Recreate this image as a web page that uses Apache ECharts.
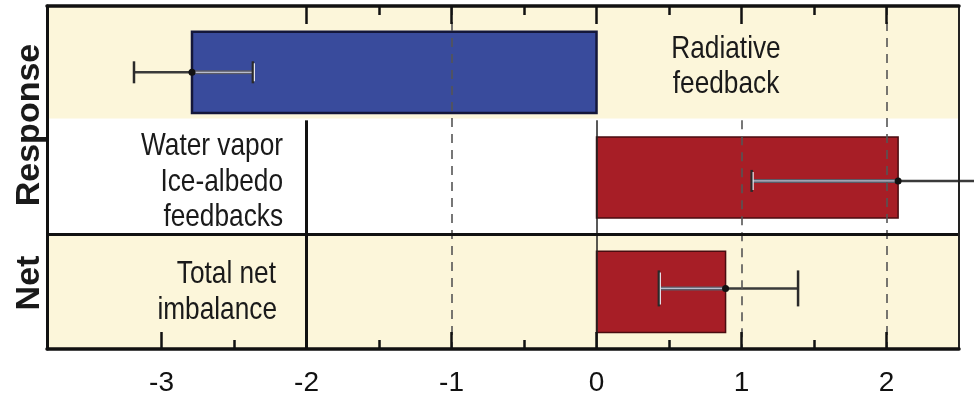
<!DOCTYPE html>
<html><head><meta charset="utf-8">
<script src="https://cdn.jsdelivr.net/npm/echarts@6/dist/echarts.min.js"></script>
<style>html,body{margin:0;padding:0;background:#fff}#c{width:974px;height:397px}</style>
</head><body><div id="c"></div>
<script>
// ---- data ----
const categories = ['Radiative feedback', 'Water vapor / Ice-albedo feedbacks', 'Total net imbalance'];
const groupLabels = ['Response', 'Net'];
const values = [-2.79, 2.08, 0.89];
const errLow = [-3.19, 1.07, 0.43];
const errHigh = [-2.37, 3.09, 1.39];
const majorTicks = [-3, -2, -1, 0, 1, 2];
const minorTicks = [-2.5, -1.5, -0.5, 0.5, 1.5];
const topMajorTicks = [-2, -1, 0, 1, 2];
const topMinorTicks = [-1.5, -0.5, 0.5, 1.5];
const xMin = -3.79, xMax = 2.5;

// ---- styles ----
const barColors = ['#394b9c', '#a71e26', '#a71e26'];
const barBorders = ['#14173a', '#4a0c10', '#4a0c10'];
const barShift = [0.08, 0, 0];
const errShift = [0.08, 0.03, -0.03];
const capHeights = [22, 22, 36];
const band = '#fcf6da';
const txt = '#1a1a1a';
const narrowScale = 0.82;

const chart = echarts.init(document.getElementById('c'));

function axisX(pos, ticks, len, showLine, showLabel) {
  return {
    type: 'value', position: pos, min: xMin, max: xMax, z: 6,
    axisLine: { show: showLine, onZero: false, lineStyle: { color: '#111', width: 3.5 } },
    axisTick: { show: true, inside: true, length: len, customValues: ticks, lineStyle: { color: '#111', width: 2.5 } },
    axisLabel: showLabel ? { show: true, customValues: ticks, fontSize: 28, color: '#111', fontFamily: 'Liberation Sans', margin: 20 } : { show: false },
    splitLine: { show: false }
  };
}

const dash = { color: '#555', width: 1.6, type: [9, 7] };
const solid = { color: '#111', width: 3, type: 'solid' };
const thin = { color: '#222', width: 1.5, type: 'solid' };

function seg(x1, y1, x2, y2, style) {
  return [{ coord: [x1, y1], lineStyle: style }, { coord: [x2, y2] }];
}

function note(text, x, y, align) {
  return { type: 'text', x: x, y: y, z: 10, scaleX: narrowScale,
    style: { text: text, fontSize: 32, fontFamily: 'Liberation Sans', fill: txt, align: align, verticalAlign: 'middle' } };
}

const option = {
  animation: false,
  backgroundColor: '#fff',
  grid: { left: 47, right: 15, top: 6, bottom: 48, containLabel: false, outerBoundsMode: 'none' },
  xAxis: [
    axisX('bottom', majorTicks, 17, true, true),
    axisX('bottom', minorTicks, 9, false, false),
    axisX('top', topMajorTicks, 18, true, false),
    axisX('top', topMinorTicks, 9, false, false)
  ],
  yAxis: [
    { type: 'value', min: 0, max: 3, inverse: true, position: 'left', z: 6,
      axisLine: { show: true, onZero: false, lineStyle: { color: '#111', width: 3 } },
      axisTick: { show: false }, axisLabel: { show: false }, splitLine: { show: false } },
    { type: 'value', min: 0, max: 3, inverse: true, position: 'right', z: 6,
      axisLine: { show: true, onZero: false, lineStyle: { color: '#222', width: 2 } },
      axisTick: { show: false }, axisLabel: { show: false }, splitLine: { show: false } }
  ],
  series: [
    { type: 'line', data: [], z: 0, silent: true,
      markArea: { silent: true, itemStyle: { color: band },
        data: [[{ yAxis: 0 }, { yAxis: 0.985 }], [{ yAxis: 2 }, { yAxis: 3 }]] } },
    { type: 'line', data: [], z: 1, silent: true,
      markLine: { silent: true, symbol: ['none', 'none'], label: { show: false },
        data: [
          seg(-1, 0, -1, 3, dash),
          seg(1, 1, 1, 3, dash),
          seg(2, 0, 2, 3, dash),
          seg(-2, 1, -2, 3, solid),
          seg(0, 1, 0, 3, thin),
          seg(xMin, 2, xMax, 2, solid)
        ] } },
    { type: 'custom', z: 2, clip: false, encode: { x: 1, y: 0 },
      data: values.map((v, i) => [i, v]),
      renderItem(params, api) {
        const i = api.value(0), v = api.value(1);
        const c = i + 0.5 + barShift[i];
        const p0 = api.coord([0, c]), p1 = api.coord([v, c]);
        const h = Math.abs(api.size([0, 0.71])[1]);
        return { type: 'rect',
          shape: { x: Math.min(p0[0], p1[0]), y: p0[1] - h / 2, width: Math.abs(p1[0] - p0[0]), height: h },
          style: { fill: barColors[i], stroke: barBorders[i], lineWidth: i === 0 ? 2.5 : 1.5 } };
      } },
    { type: 'custom', z: 3, clip: false, encode: { x: 1, y: 0 },
      data: values.map((v, i) => [i, v, errLow[i], errHigh[i]]),
      renderItem(params, api) {
        const i = api.value(0), v = api.value(1), lo = api.value(2), hi = api.value(3);
        const c = i + 0.5 + errShift[i];
        const pv = api.coord([v, c]), pl = api.coord([lo, c]), ph = api.coord([hi, c]), p0 = api.coord([0, c]);
        const y = pv[1];
        const bx0 = Math.min(p0[0], pv[0]), bx1 = Math.max(p0[0], pv[0]);
        const inL = Math.max(bx0, pl[0]), inR = Math.min(bx1, ph[0]);
        const ch = capHeights[i];
        const kids = [
          { type: 'line', shape: { x1: pl[0], y1: y, x2: ph[0], y2: y }, style: { stroke: '#3a3a3a', lineWidth: 2.5 } }
        ];
        if (inR > inL) {
          kids.push({ type: 'line', shape: { x1: inL, y1: y, x2: inR, y2: y }, style: { stroke: '#5a5a66', lineWidth: 4 } });
          kids.push({ type: 'line', shape: { x1: inL, y1: y, x2: inR, y2: y }, style: { stroke: '#b8bccc', lineWidth: 1.2 } });
        }
        [pl[0], ph[0]].forEach(x => {
          const inside = x >= bx0 && x <= bx1;
          kids.push({ type: 'line', shape: { x1: x, y1: y - ch / 2, x2: x, y2: y + ch / 2 }, style: { stroke: '#2a2a2a', lineWidth: 2.5 } });
          if (inside) kids.push({ type: 'line', shape: { x1: x + 1.5, y1: y - ch / 2 + 2, x2: x + 1.5, y2: y + ch / 2 - 2 }, style: { stroke: '#e6e6ee', lineWidth: 1.2 } });
        });
        kids.push({ type: 'circle', shape: { cx: pv[0], cy: y, r: 3.5 }, style: { fill: '#111' } });
        return { type: 'group', children: kids };
      } }
  ],
  graphic: [
    { type: 'text', x: 30, y: 125, rotation: Math.PI / 2, z: 10,
      style: { text: groupLabels[0], fontSize: 34, fontWeight: 'bold', fontFamily: 'Liberation Sans', fill: txt, align: 'center', verticalAlign: 'middle' } },
    { type: 'text', x: 30, y: 283, rotation: Math.PI / 2, z: 10,
      style: { text: groupLabels[1], fontSize: 34, fontWeight: 'bold', fontFamily: 'Liberation Sans', fill: txt, align: 'center', verticalAlign: 'middle' } },
    note('Radiative', 726, 49, 'center'),
    note('feedback', 726, 84, 'center'),
    note('Water vapor', 283, 146, 'right'),
    note('Ice-albedo', 283, 182, 'right'),
    note('feedbacks', 283, 217, 'right'),
    note('Total net', 276, 274, 'right'),
    note('imbalance', 277, 310, 'right')
  ]
};
chart.setOption(option);
</script>
</body></html>
